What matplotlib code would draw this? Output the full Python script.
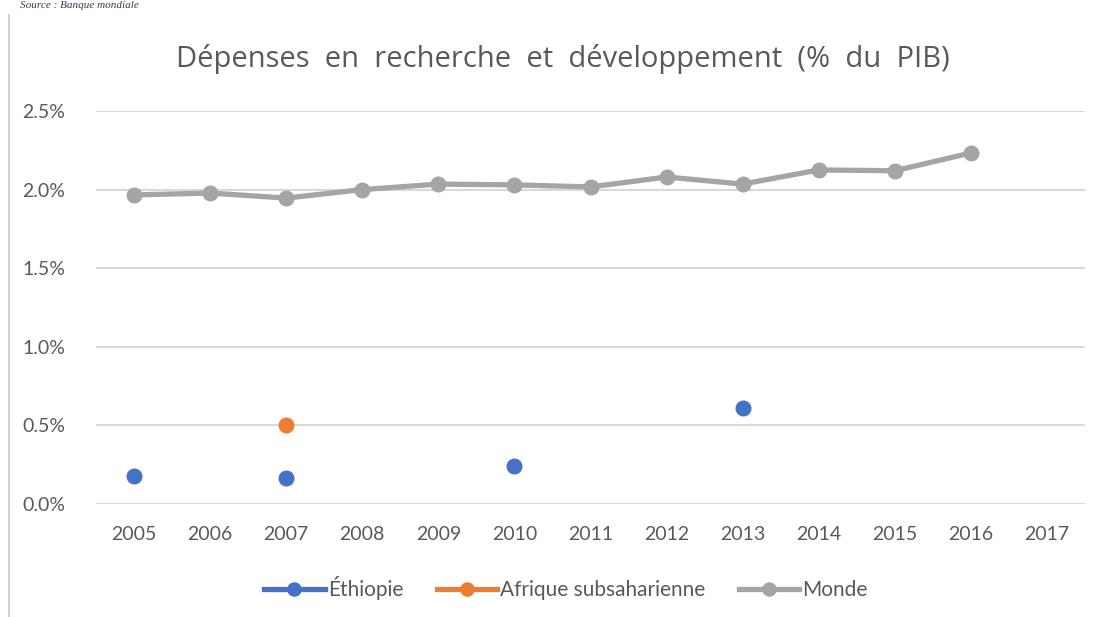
import matplotlib
matplotlib.use("Agg")
from matplotlib import pyplot as plt
from matplotlib.lines import Line2D
import numpy as np

# data (% of GDP)
years = ["2005", "2006", "2007", "2008", "2009", "2010", "2011",
         "2012", "2013", "2014", "2015", "2016", "2017"]
ethiopie = [0.178, None, 0.165, None, None, 0.242, None, None, 0.61, None, None, None, None]
afrique = [None, None, 0.50, None, None, None, None, None, None, None, None, None, None]
monde = [1.966, 1.978, 1.946, 2.00, 2.035, 2.03, 2.017, 2.08, 2.035, 2.125, 2.12, 2.233, None]
yticks = [0.0, 0.5, 1.0, 1.5, 2.0, 2.5]

BLUE = "#4472C4"
ORANGE = "#ED7D31"
GRAY = "#A5A5A5"
TXT = "#595959"

plt.rcParams['font.family'] = ['Lato', 'DejaVu Sans']


def to_arr(vals):
	return np.array([np.nan if v is None else v for v in vals], dtype=float)


fig = plt.figure(figsize=(11.01, 6.17), dpi=100)
ax = fig.add_axes([0.0872, 0.1832, 0.8983, 0.6369])

x = np.arange(len(years))
ax.plot(x, to_arr(monde), color=GRAY, linewidth=3.8, marker="o", markersize=10.5,
		label="Monde", zorder=3)
ax.plot(x, to_arr(ethiopie), color=BLUE, linewidth=3.8, marker="o", markersize=10.5,
		label="Éthiopie", zorder=4)
ax.plot(x, to_arr(afrique), color=ORANGE, linewidth=3.8, marker="o", markersize=10.5,
		label="Afrique subsaharienne", zorder=4)

ax.set_xlim(-0.5, len(years) - 0.5)
ax.set_ylim(0, 2.5)
ax.set_xticks(x)
ax.set_xticklabels(years)
ax.set_yticks(yticks)
ax.set_yticklabels(["%.1f%%" % v for v in yticks])
ax.grid(axis="y", color="#D9D9D9", linewidth=1.5)
ax.set_axisbelow(True)
for s in ax.spines.values():
	s.set_visible(False)
ax.tick_params(length=0, labelsize=14, colors=TXT)
ax.tick_params(axis="x", pad=16)
ax.tick_params(axis="y", pad=22)

fig.text(0.511, 0.905, "Dépenses  en  recherche  et  développement  (%  du  PIB)",
		 ha="center", va="center", fontsize=21, color=TXT, family="Open Sans")

# legend order as in the picture
handles, labels = ax.get_legend_handles_labels()
order = [1, 2, 0]
leg = fig.legend([handles[i] for i in order], [labels[i] for i in order],
				 loc="center", bbox_to_anchor=(0.514, 0.047), ncol=3, frameon=False,
				 fontsize=15, handlelength=2.9, columnspacing=1.6, handletextpad=0.15,
				 markerscale=0.9)
for t in leg.get_texts():
	t.set_color(TXT)

# left border of the chart box and the source line above it
fig.add_artist(Line2D([0.0085, 0.0085], [0.0, 0.975], transform=fig.transFigure,
					  color="#D0D0D0", linewidth=1.5))
fig.text(0.018, 0.999, "Source : Banque mondiale", ha="left", va="top",
		 fontsize=8, style="italic", family="Liberation Serif", color="#2F3B5C")

fig.savefig("out.png", dpi=100)
